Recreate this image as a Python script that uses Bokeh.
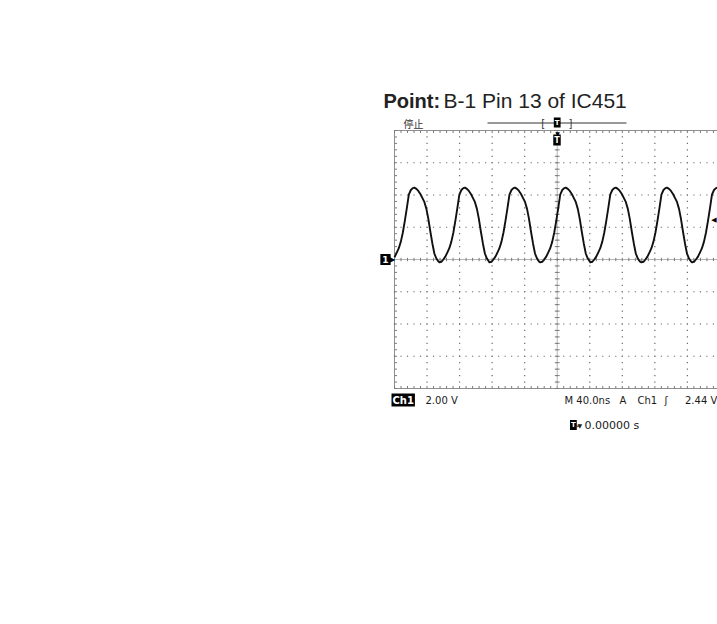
import numpy as np
from bokeh.plotting import figure
from bokeh.models import Range1d, Label
from bokeh.embed import file_html
from bokeh.resources import INLINE

TIME_PER_DIV = 40.0      # ns / div  (M 40.0ns)
VOLT_PER_DIV = 2.0       # V / div   (Ch1 2.00 V)
TRIGGER_LEVEL = 2.44     # V
X_START, X_END = -200.0, 197.0   # visible part of the 10-div screen
Y_START, Y_END = -8.0, 8.0

time_ns = [
    -200.0, -197.2, -194.7, -192.2, -189.8, -187.3, -184.8, -182.4, -179.9, -177.5, -175.6,
    -173.1, -170.7, -168.2, -165.8, -163.3, -160.8, -158.4, -155.9, -153.4, -151.0, -148.5, -146.1,
    -144.9, -142.4, -140.0, -137.5, -135.1, -132.6, -130.1, -127.7, -125.2, -122.7, -120.3, -117.8, -115.4, -113.5,
    -111.0, -108.6, -106.1, -103.7, -101.2, -98.7, -96.3, -93.8, -91.3, -88.9, -86.4, -84.0,
    -83.3, -80.8, -78.4, -75.9, -73.5, -71.0, -68.5, -66.1, -63.6, -61.1, -58.7, -56.2, -53.8, -51.9,
    -49.4, -47.0, -44.5, -42.1, -39.6, -37.1, -34.7, -32.2, -29.7, -27.3, -24.8, -22.4,
    -20.9, -18.4, -16.0, -13.5, -11.1, -8.6, -6.1, -3.7, -1.2, 1.3, 3.7, 6.2, 8.6, 10.5,
    13.0, 15.4, 17.9, 20.3, 22.8, 25.3, 27.7, 30.2, 32.7, 35.1, 37.6, 40.0,
    40.6, 43.1, 45.5, 48.0, 50.4, 52.9, 55.4, 57.8, 60.3, 62.8, 65.2, 67.7, 70.1, 72.0,
    74.5, 76.9, 79.4, 81.8, 84.3, 86.8, 89.2, 91.7, 94.2, 96.6, 99.1, 101.5,
    103.5, 106.0, 108.4, 110.9, 113.3, 115.8, 118.3, 120.7, 123.2, 125.7, 128.1, 130.6, 133.0, 134.9,
    137.4, 139.8, 142.3, 144.7, 147.2, 149.7, 152.1, 154.6, 157.1, 159.5, 162.0, 164.4,
    165.6, 168.1, 170.5, 173.0, 175.4, 177.9, 180.4, 182.8, 185.3, 187.8, 190.2, 192.7, 195.1, 197.0,
]
volts = [
    0.14, 0.43, 0.70, 1.11, 1.66, 2.40, 3.20, 4.02, 4.31, 4.43, 4.46,
    4.38, 4.25, 4.06, 3.82, 3.57, 3.14, 2.52, 1.72, 0.98, 0.37, 0.06, -0.12,
    -0.18, -0.14, 0.00, 0.18, 0.43, 0.70, 1.11, 1.66, 2.40, 3.20, 4.02, 4.31, 4.43, 4.46,
    4.38, 4.25, 4.06, 3.82, 3.57, 3.14, 2.52, 1.72, 0.98, 0.37, 0.06, -0.12,
    -0.18, -0.14, 0.00, 0.18, 0.43, 0.70, 1.11, 1.66, 2.40, 3.20, 4.02, 4.31, 4.43, 4.46,
    4.38, 4.25, 4.06, 3.82, 3.57, 3.14, 2.52, 1.72, 0.98, 0.37, 0.06, -0.12,
    -0.18, -0.14, 0.00, 0.18, 0.43, 0.70, 1.11, 1.66, 2.40, 3.20, 4.02, 4.31, 4.43, 4.46,
    4.38, 4.25, 4.06, 3.82, 3.57, 3.14, 2.52, 1.72, 0.98, 0.37, 0.06, -0.12,
    -0.18, -0.14, 0.00, 0.18, 0.43, 0.70, 1.11, 1.66, 2.40, 3.20, 4.02, 4.31, 4.43, 4.46,
    4.38, 4.25, 4.06, 3.82, 3.57, 3.14, 2.52, 1.72, 0.98, 0.37, 0.06, -0.12,
    -0.18, -0.14, 0.00, 0.18, 0.43, 0.70, 1.11, 1.66, 2.40, 3.20, 4.02, 4.31, 4.43, 4.46,
    4.38, 4.25, 4.06, 3.82, 3.57, 3.14, 2.52, 1.72, 0.98, 0.37, 0.06, -0.12,
    -0.18, -0.14, 0.00, 0.18, 0.43, 0.70, 1.11, 1.66, 2.40, 3.20, 4.02, 4.31, 4.43, 4.46,
]

TITLE_BOLD = "Point:"
TITLE_REST = "B-1 Pin 13 of IC451"
STATUS = "停止"
CH_LABEL = "Ch1"
VOLT_TEXT = "2.00 V"
TIME_TEXT = "M 40.0ns"
TRIG_SRC = ["A", "Ch1", "ʃ", "2.44 V"]
DELAY_TEXT = "0.00000 s"

# ---------------- geometry (page pixels of the scope screen) ----------------
W, H = 717, 440
SCR_L, SCR_R, SCR_T, SCR_B = 394, 717, 130, 388
KX = (X_END - X_START) / (SCR_R - SCR_L)     # ns per px
KY = (Y_END - Y_START) / (SCR_B - SCR_T)     # V per px


def px2x(xp):
    return X_START + (xp - SCR_L) * KX


def px2y(yp):
    return Y_END - (yp - SCR_T) * KY


p = figure(width=W, height=H, output_backend="svg", toolbar_location=None,
           x_range=Range1d(px2x(0), px2x(W)), y_range=Range1d(px2y(H), px2y(0)),
           x_axis_type=None, y_axis_type=None,
           min_border_left=0, min_border_right=0, min_border_top=0, min_border_bottom=0)
p.outline_line_color = None
p.background_fill_color = "white"
p.border_fill_color = "white"

major_x = np.arange(X_START, 200.01, TIME_PER_DIV)
minor_x = np.arange(X_START, X_END + 0.01, TIME_PER_DIV / 5)
major_y = np.arange(Y_START, Y_END + 0.01, VOLT_PER_DIV)
minor_y = np.arange(Y_START, Y_END + 0.01, VOLT_PER_DIV / 5)
major_xv = major_x[major_x <= X_END]

RULER = "#8f8f8f"
TICK = "#7a7a7a"

# screen edges (rulers)
p.segment(x0=[X_START, X_START, X_START], y0=[Y_END, Y_START, Y_START],
          x1=[X_END, X_END, X_START], y1=[Y_END, Y_START, Y_END], line_color=RULER, line_width=1)
p.segment(x0=minor_x, y0=Y_END, x1=minor_x, y1=Y_END - 2.5 * KY, line_color=TICK)
p.segment(x0=minor_x, y0=Y_START, x1=minor_x, y1=Y_START + 2.5 * KY, line_color=TICK)
p.segment(x0=X_START, y0=minor_y, x1=X_START + 2.5 * KX, y1=minor_y, line_color=TICK)

# dotted graticule
gx1, gy1 = np.meshgrid(minor_x, major_y[1:-1])
gx2, gy2 = np.meshgrid(major_xv[1:], minor_y[1:-1])
gx = np.concatenate([gx1.ravel(), gx2.ravel()])
gy = np.concatenate([gy1.ravel(), gy2.ravel()])
p.rect(x=gx, y=gy, width=1.2, height=1.2, width_units="screen", height_units="screen",
       fill_color="#6a6a6a", line_color=None)

# centre cross-hair with ticks
p.segment(x0=[X_START, 0], y0=[0, Y_START], x1=[X_END, 0], y1=[0, Y_END], line_color="#b5b5b5", line_width=1)
p.segment(x0=minor_x, y0=-1.7 * KY, x1=minor_x, y1=1.7 * KY, line_color=TICK, line_width=1)
p.segment(x0=-2.4 * KX, y0=minor_y, x1=2.4 * KX, y1=minor_y, line_color=TICK, line_width=1)

# waveform
p.line(time_ns, volts, line_color="#111111", line_width=1.9, line_join="round")


def lab(text, xp, yp=None, y=None, size=10, font="DejaVu Sans", color="#1a1a1a", align="left",
        baseline="alphabetic", bold=False, bg=None, pad=0):
    l = Label(x=px2x(xp), y=(px2y(yp) if y is None else y), text=text, text_font=font,
              text_font_size=f"{size}px", text_color=color, text_align=align,
              text_baseline=baseline, text_font_style="bold" if bold else "normal")
    if bg is not None:
        l.background_fill_color = bg
        l.padding = pad
    p.add_layout(l)


# title
lab(TITLE_BOLD, 383, 100, size=20, font="Liberation Sans", bold=True, color="#222222")
lab(TITLE_REST, 443, 100, size=21, font="Liberation Sans", color="#222222")

# status + record bar
lab(STATUS, 403, 123, size=10, font="Noto Sans CJK JP", color="#333333")
p.segment(x0=px2x(487), y0=px2y(122.5), x1=px2x(626), y1=px2y(122.5), line_color="#333333", line_width=1)
lab("[", 542.7, 122.5, size=10, align="center", baseline="middle", color="#333333")
lab("]", 570, 122.5, size=10, align="center", baseline="middle", color="#333333")
lab("T", 556.7, 122, size=7, align="center", baseline="middle", bold=True, color="white", bg="black", pad=1)

# trigger position marker
lab("▼", 557, 132.5, size=6, align="center", baseline="middle", color="black")
lab("T", 556.5, 139.5, size=8, align="center", baseline="middle", bold=True, color="white", bg="black", pad=1)

# ground marker & trigger level marker
lab("1", 385, y=0, size=9, align="center", baseline="middle", bold=True, color="white", bg="black", pad=2)
lab("▶", 391.5, y=0, size=8, align="center", baseline="middle", color="black")
lab("◀", 713.5, y=TRIGGER_LEVEL, size=7, align="center", baseline="middle", color="black")

# readouts
lab(CH_LABEL, 391, 399.5, size=10, bold=True, color="white", bg="black", pad=1)
lab(VOLT_TEXT, 425, 399.5, size=10)
lab(TIME_TEXT, 564, 399.5, size=10)
for t, xp in zip(TRIG_SRC, (619, 637, 664, 684.5)):
    lab(t, xp, 399.5, size=10)
lab("T", 569.5, 424.5, size=7, bold=True, color="white", bg="black", pad=1)
lab("→", 573.5, 424.5, size=6)
lab("▼", 577, 424.5, size=6)
lab(DELAY_TEXT, 584, 425, size=11)

open("out.html", "w").write(file_html(p, INLINE))
